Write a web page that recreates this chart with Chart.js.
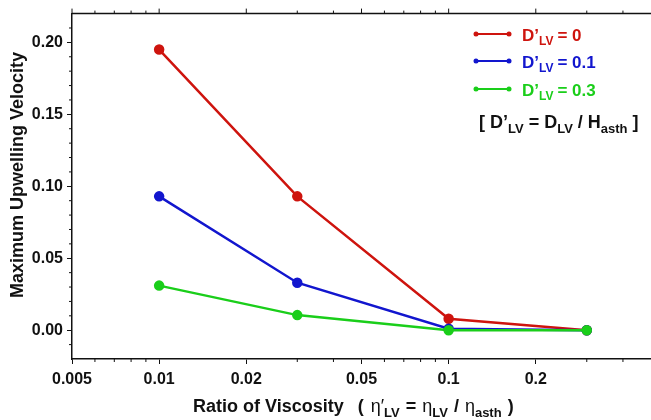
<!DOCTYPE html>
<html>
<head>
<meta charset="utf-8">
<script src="https://cdn.jsdelivr.net/npm/chart.js@4"></script>
<style>
  html, body { margin: 0; padding: 0; background: #fff; }
  #wrap { width: 651px; height: 420px; }
</style>
</head>
<body>
<div id="wrap"><canvas id="upwellingChart"></canvas></div>
<script>
// viscosity ratio (x) and max upwelling velocity per D'LV case
const viscosityRatio = [0.01, 0.03, 0.1, 0.3];
const velocityD0 = [0.195, 0.093, 0.008, 0.0];
const velocityD01 = [0.093, 0.033, 0.001, 0.0];
const velocityD03 = [0.031, 0.0105, 0.0, 0.0];
const caseLabels = ['0', '0.1', '0.3'];
const caseColors = ['rgb(206, 20, 14)', 'rgb(18, 22, 206)', 'rgb(26, 206, 26)'];

const xMajorTicks = [0.005, 0.01, 0.02, 0.05, 0.1, 0.2];
const xMinorTicks = [0.006, 0.007, 0.008, 0.009, 0.03, 0.04, 0.06, 0.07, 0.08, 0.09, 0.3, 0.4];
const yMajorTicks = [0, 0.05, 0.1, 0.15, 0.2];
const yMinorTicks = [-0.01, 0.01, 0.02, 0.03, 0.04, 0.06, 0.07, 0.08, 0.09, 0.11, 0.12, 0.13, 0.14, 0.16, 0.17, 0.18, 0.19, 0.21];

const FONT = '"Liberation Sans", Arial, Helvetica, sans-serif';

function toPoints(ys) {
    return viscosityRatio.map((x, i) => ({ x: x, y: ys[i] }));
}

// draws a run of text pieces, some of them subscripted
function drawRich(ctx, x, y, parts, size, color) {
    ctx.fillStyle = color;
    ctx.textBaseline = 'alphabetic';
    ctx.textAlign = 'left';
    parts.forEach(p => {
        const s = p.sub ? Math.round(size * 0.72) : size;
        const weight = p.normal ? 'normal' : 'bold';
        ctx.font = weight + ' ' + s + 'px ' + FONT;
        ctx.fillText(p.t, x, y + (p.sub ? size * 0.28 : 0));
        x += ctx.measureText(p.t).width + (p.gap || 0);
    });
    return x;
}

const framePlugin = {
    id: 'frame',
    afterDraw(chart) {
        const ctx = chart.ctx;
        const area = chart.chartArea;
        const xs = chart.scales.x;
        const ys = chart.scales.y;
        ctx.save();
        ctx.strokeStyle = '#111';
        ctx.lineWidth = 1.5;
        // top border
        ctx.beginPath();
        ctx.moveTo(area.left, area.top);
        ctx.lineTo(area.right, area.top);
        ctx.stroke();
        ctx.lineWidth = 1;
        ctx.beginPath();
        xMajorTicks.forEach(v => {
            const px = xs.getPixelForValue(v);
            ctx.moveTo(px, area.top);
            ctx.lineTo(px, area.top - 5);
        });
        xMinorTicks.forEach(v => {
            const px = xs.getPixelForValue(v);
            ctx.moveTo(px, area.top);
            ctx.lineTo(px, area.top - 3);
            ctx.moveTo(px, area.bottom);
            ctx.lineTo(px, area.bottom + 3);
        });
        yMinorTicks.forEach(v => {
            const py = ys.getPixelForValue(v);
            ctx.moveTo(area.left, py);
            ctx.lineTo(area.left - 3, py);
        });
        ctx.stroke();

        // y axis title
        ctx.save();
        ctx.translate(18, 175);
        ctx.rotate(-Math.PI / 2);
        ctx.font = 'bold 18px ' + FONT;
        ctx.fillStyle = '#111';
        ctx.textAlign = 'center';
        ctx.textBaseline = 'middle';
        ctx.fillText('Maximum Upwelling Velocity', 0, 0);
        ctx.restore();

        // x axis title
        let tx = drawRich(ctx, 193, 412, [{ t: 'Ratio of Viscosity', gap: 14 }, { t: '(', gap: 7 }], 18, '#111');
        drawRich(ctx, tx, 412, [
            { t: '\u03B7\u2032', normal: true },
            { t: 'LV', sub: true, gap: 6 },
            { t: '=', gap: 6 },
            { t: '\u03B7', normal: true },
            { t: 'LV', sub: true, gap: 6 },
            { t: '/', gap: 6 },
            { t: '\u03B7', normal: true },
            { t: 'asth', sub: true, gap: 6 },
            { t: ')' }
        ], 18, '#111');

        // legend
        const rows = [34, 61, 89];
        chart.data.datasets.forEach((ds, i) => {
            const y = rows[i];
            ctx.strokeStyle = ds.borderColor;
            ctx.fillStyle = ds.borderColor;
            ctx.lineWidth = 2;
            ctx.beginPath();
            ctx.moveTo(476, y);
            ctx.lineTo(509, y);
            ctx.stroke();
            [476, 509].forEach(cx => {
                ctx.beginPath();
                ctx.arc(cx, y, 2.5, 0, Math.PI * 2);
                ctx.fill();
            });
            drawRich(ctx, 522, y + 6.5, [
                { t: 'D\u2019' },
                { t: 'LV', sub: true, gap: 4 },
                { t: '= ' + caseLabels[i] }
            ], 17, ds.borderColor);
        });
        drawRich(ctx, 479, 128, [
            { t: '[ D\u2019' },
            { t: 'LV', sub: true, gap: 5 },
            { t: '= D' },
            { t: 'LV', sub: true, gap: 5 },
            { t: '/ H' },
            { t: 'asth', sub: true, gap: 5 },
            { t: ']' }
        ], 18, '#111');
        ctx.restore();
    }
};

function makeSet(label, ys, color, order) {
    return {
        label: label,
        data: toPoints(ys),
        borderColor: color,
        backgroundColor: color,
        pointBackgroundColor: color,
        pointBorderColor: color,
        borderWidth: 2.5,
        pointRadius: 4,
        tension: 0,
        order: order
    };
}

const ctx = document.getElementById('upwellingChart').getContext('2d');
const upwellingChart = new Chart(ctx, {
    type: 'line',
    data: {
        datasets: [
            makeSet("D'LV = " + caseLabels[0], velocityD0, caseColors[0], 3),
            makeSet("D'LV = " + caseLabels[1], velocityD01, caseColors[1], 2),
            makeSet("D'LV = " + caseLabels[2], velocityD03, caseColors[2], 1)
        ]
    },
    options: {
        responsive: true,
        maintainAspectRatio: false,
        animation: false,
        layout: { autoPadding: false, padding: { top: 11, right: 0, left: 0, bottom: 0 } },
        plugins: {
            legend: { display: false },
            tooltip: { enabled: false }
        },
        scales: {
            x: {
                type: 'logarithmic',
                min: 0.005,
                max: 0.5,
                afterBuildTicks: scale => { scale.ticks = xMajorTicks.map(v => ({ value: v })); },
                afterFit: scale => { scale.height = 61; },
                grid: { drawOnChartArea: false, tickLength: 5, tickColor: '#111', tickWidth: 1 },
                border: { color: '#111', width: 1.5 },
                ticks: {
                    color: '#111',
                    padding: 6,
                    maxRotation: 0,
                    autoSkip: false,
                    font: { family: FONT, size: 16, weight: 'bold' },
                    callback: v => String(v)
                }
            },
            y: {
                min: -0.02,
                max: 0.22,
                afterBuildTicks: scale => { scale.ticks = yMajorTicks.map(v => ({ value: v })); },
                afterFit: scale => { scale.width = 72; },
                grid: { drawOnChartArea: false, tickLength: 5, tickColor: '#111', tickWidth: 1 },
                border: { color: '#111', width: 1.5 },
                ticks: {
                    color: '#111',
                    padding: 4,
                    font: { family: FONT, size: 16, weight: 'bold' },
                    callback: v => Number(v).toFixed(2)
                }
            }
        }
    },
    plugins: [framePlugin]
});
</script>
</body>
</html>
